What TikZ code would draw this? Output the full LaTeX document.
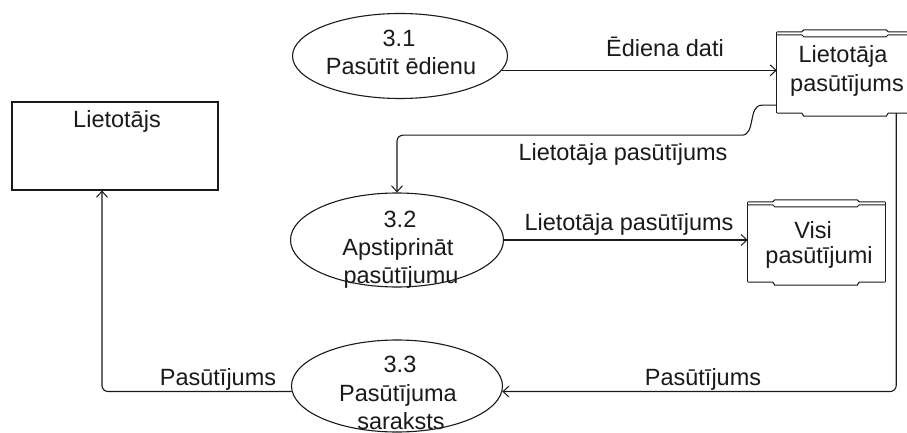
\documentclass[tikz,border=0pt]{standalone}
\usepackage{fontspec}
\setmainfont{Liberation Sans}
\usetikzlibrary{arrows.meta,calc,shapes.geometric}
\definecolor{ink}{HTML}{1A1A1A}
\tikzset{
  proc/.style={ellipse, draw=ink, line width=1.1pt, inner sep=0pt},
  txt/.style={anchor=base, inner sep=0pt, text=ink, font=\fontsize{23.5}{28}\selectfont},
  flow/.style={draw=ink, line width=1.1pt, -{Straight Barb[length=6pt,width=11pt,line width=1pt]}},
  storebox/.style={rectangle, inner sep=0pt, minimum width=137pt},
  frame/.style={draw=ink, line width=1pt},
}
% data store outline: doubled top edge with a raised band, stepped bottom edge
\newcommand\storeframe[1]{%
  \draw[frame] (#1.north west) -- ++(25,0) -- ++(2,-2) -- ($(#1.north east)+(-28,-2)$) -- ++(2,2) -- (#1.north east);
  \draw[frame] ($(#1.north west)+(0,3)$) -- ++(25,0) -- ++(2,2) -- ($(#1.north east)+(-28,5)$) -- ++(2,-2) -- ++(26,0);
  \draw[frame] (#1.south west) -- ++(25,0) -- ++(2,3) -- ($(#1.south east)+(-28,3)$) -- ++(2,-3) -- (#1.south east);
  \draw[frame] (#1.north west) -- (#1.south west) (#1.north east) -- (#1.south east);
}
\begin{document}
\begin{tikzpicture}[x=1pt,y=-1pt]
\useasboundingbox (0,0) rectangle (907,433);
\fill[white] (0,0) rectangle (907,433);
\clip (0,0) rectangle (907,433);

% processes
\node[proc, minimum width=215pt, minimum height=85pt] (e31) at (400,56) {};
\node[proc, minimum width=213pt, minimum height=94pt] (e32) at (397,240) {};
\node[proc, minimum width=211pt, minimum height=92pt] (e33) at (397,386) {};

% external entity
\node[draw=ink, line width=1.1pt, minimum width=206pt, minimum height=88pt, inner sep=0pt] (user) at (115,146) {};

% data stores
\node[storebox, minimum height=81pt] (s1) at (845.5,72.5) {};
\node[storebox, minimum height=80pt] (s2) at (816.5,242) {};
\storeframe{s1}
\storeframe{s2}

% texts
\node[txt] (t31a) at (399,47) {3.1};
\node[txt] (t31b) at (401,75) {Pasūtīt ēdienu};
\node[txt] (t32a) at (400,227) {3.2};
\node[txt] (t32b) at (398,255) {Apstiprināt};
\node[txt] (t32c) at (401,283) {pasūtījumu};
\node[txt] (t33a) at (400,372) {3.3};
\node[txt] (t33b) at (398,401) {Pasūtījuma};
\node[txt] (t33c) at (401,429) {saraksts};
\node[txt] (ts1a) at (843,63) {Lietotāja};
\node[txt] (ts1b) at (847,92) {pasūtījums};
\node[txt] (ts2a) at (813,238) {Visi};
\node[txt] (ts2b) at (819,263) {pasūtījumi};
\node[txt] (tuser) at (117,128) {Lietotājs};

% flow labels
\node[txt] (l1) at (665,57) {Ēdiena dati};
\node[txt] (l2) at (623,160) {Lietotāja pasūtījums};
\node[txt] (l3) at (629,230) {Lietotāja pasūtījums};
\node[txt] (l4) at (703,385) {Pasūtījums};
\node[txt] (l5) at (218,385) {Pasūtījums};

% flows
\coordinate (s1out) at ($(s1.south west)+(0,-8)$);
\coordinate (s1down) at ($(s1.south east)+(-18,0)$);
\coordinate (userin) at ($(user.south)+(-13,0)$);

\draw[flow] (e31.-8) -- (e31.-8 -| s1.west);
\draw[flow] (s1out) -- ++(-15,0) .. controls +(-14,0) and +(14,0) .. ++(-20,30) [rounded corners=6pt] -| (e32.north);
\draw[flow] (e32.east) -- (e32.east -| s2.west);
\draw[flow, rounded corners=6pt] (s1down) |- (e33.-3);
\draw[flow, rounded corners=6pt] (e33.183) -| (userin);
\end{tikzpicture}
\end{document}
